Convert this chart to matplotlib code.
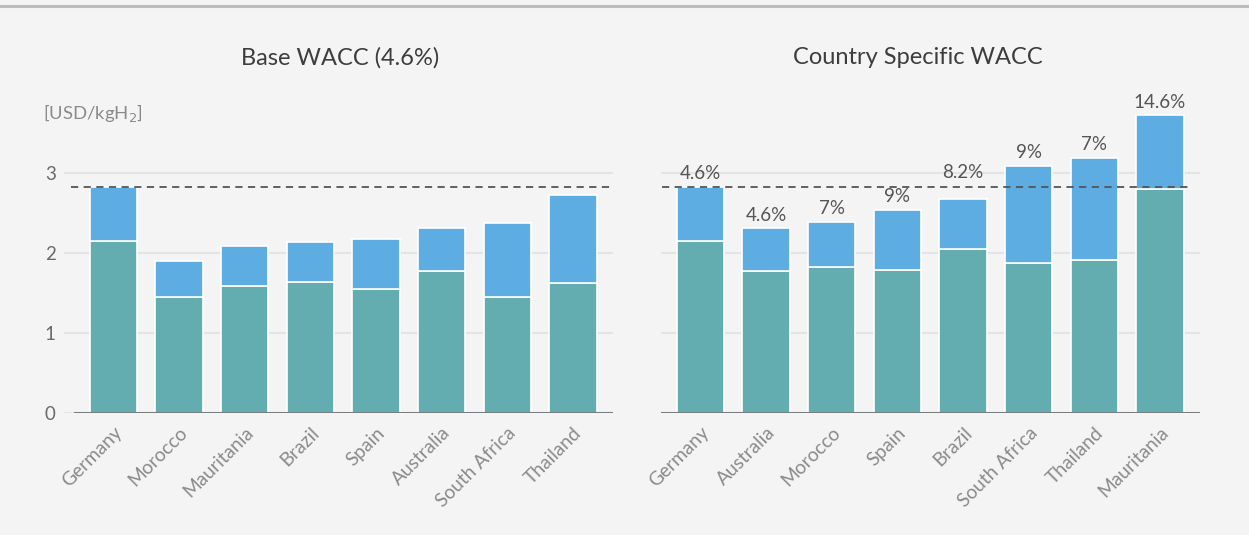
import matplotlib
matplotlib.use("Agg")
import matplotlib.pyplot as plt
from matplotlib.lines import Line2D

plt.rcParams['font.family'] = ['Lato', 'DejaVu Sans']

# ---- data ----
base_countries = ["Germany", "Morocco", "Mauritania", "Brazil", "Spain",
                  "Australia", "South Africa", "Thailand"]
base_lower = [2.15, 1.45, 1.59, 1.64, 1.55, 1.78, 1.45, 1.63]
base_total = [2.83, 1.90, 2.09, 2.14, 2.18, 2.31, 2.37, 2.72]

cs_countries = ["Germany", "Australia", "Morocco", "Spain", "Brazil",
                "South Africa", "Thailand", "Mauritania"]
cs_lower = [2.15, 1.78, 1.83, 1.79, 2.05, 1.87, 1.91, 2.80]
cs_total = [2.83, 2.31, 2.39, 2.54, 2.68, 3.09, 3.19, 3.72]
cs_labels = ["4.6%", "4.6%", "7%", "9%", "8.2%", "9%", "7%", "14.6%"]

reference_level = 2.83
yticks = [0, 1, 2, 3]

TEAL = "#63adb0"
BLUE = "#5dade2"
BG = "#f4f4f4"

fig = plt.figure(figsize=(12.49, 5.35), dpi=100, facecolor=BG)

# top border line
fig.add_artist(Line2D([0, 1], [1 - 5.5 / 535, 1 - 5.5 / 535], transform=fig.transFigure,
                      color="#bbbbc2", lw=2.2))

ax1 = fig.add_axes([64 / 1249, 122 / 535, 549 / 1249, 304 / 535])
ax2 = fig.add_axes([661 / 1249, 122 / 535, 539 / 1249, 304 / 535])


def draw(ax, countries, lower, total, xlim, base_start):
    ax.set_facecolor(BG)
    x = list(range(len(countries)))
    upper = [t - l for t, l in zip(total, lower)]
    ax.bar(x, lower, width=0.72, color=TEAL, edgecolor="white", linewidth=1.2, zorder=3)
    ax.bar(x, upper, bottom=lower, width=0.72, color=BLUE, edgecolor="white",
           linewidth=1.2, zorder=3)
    ax.set_xlim(*xlim)
    ax.set_ylim(0, 3.8)
    for y in yticks[1:]:
        ax.axhline(y, color="#e4e4e4", lw=1.5, zorder=1)
    ax.axhline(0, color="#e4e4e4", lw=1.5, zorder=1)
    ax.axhline(0, xmin=base_start, xmax=1, color="#7a7d80", lw=2.2, zorder=4)
    for s in ax.spines.values():
        s.set_visible(False)
    ax.set_xticks(x)
    ax.set_xticklabels(countries, rotation=45, ha="right", rotation_mode="anchor",
                       color="#8a8a8a", fontsize=13.8)
    ax.tick_params(axis="x", length=0, pad=8)
    ax.set_yticks(yticks)
    ax.tick_params(axis="y", length=0, pad=6, labelcolor="#6a6a6a", labelsize=13.5)


draw(ax1, base_countries, base_lower, base_total, (-0.75, 7.61), 0.02)
draw(ax2, cs_countries, cs_lower, cs_total, (-0.6, 7.61), 0.0)
ax2.set_yticklabels([])

ax1.plot([-0.65, 7.58], [reference_level] * 2, color="#555555", lw=1.3,
         ls=(0, (4, 3)), zorder=5)
ax2.plot([-0.58, 7.45], [reference_level] * 2, color="#555555", lw=1.3,
         ls=(0, (4, 3)), zorder=5)

# percent labels: ~13 px above bar; if that collides with the dashed line, lift above it
px_per_unit = 80.0
for i, (t, lab) in enumerate(zip(cs_total, cs_labels)):
    yc = t + 13 / px_per_unit
    if t < reference_level and abs(yc - reference_level) < 10 / px_per_unit:
        yc = reference_level + 14 / px_per_unit
    ax2.text(i, yc, lab, ha="center", va="center", color="#555555", fontsize=13.5,
             clip_on=False)

fig.text(340 / 1249, 1 - 58 / 535, "Base WACC (4.6%)", ha="center", va="center",
         fontsize=17, color="#3d3d3d")
fig.text(918 / 1249, 1 - 58 / 535, "Country Specific WACC", ha="center", va="center",
         fontsize=17, color="#3d3d3d")
fig.text(43 / 1249, 1 - 113 / 535, "[USD/kgH$_2$]", ha="left", va="center",
         fontsize=13.3, color="#8a8a8a")

fig.savefig("out.png", dpi=100, facecolor=BG)
